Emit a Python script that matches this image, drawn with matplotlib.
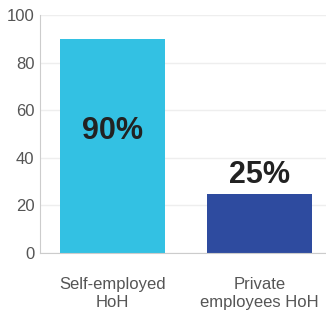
import matplotlib.pyplot as plt

categories = ['Self-employed\nHoH', 'Private\nemployees HoH']
values = [90, 25]
colors = ['#33c1e3', '#2e4b9f']
yticks = [0, 20, 40, 60, 80, 100]

plt.rcParams['font.family'] = ['Liberation Sans', 'DejaVu Sans']

fig = plt.figure(figsize=(3.26, 3.15), dpi=100)
ax = fig.add_axes([40 / 326, 62 / 315, 286 / 326, 238 / 315])

x = range(len(categories))
ax.bar(x, values, width=0.71, color=colors, zorder=2)

ax.set_xlim(-0.49, 1.45)
ax.set_ylim(0, 100)
ax.set_yticks(yticks)
ax.set_xticks(list(x))
ax.set_xticklabels(categories, linespacing=1.3)
ax.tick_params(axis='y', length=0, pad=4, labelsize=12, labelcolor='#555555')
ax.tick_params(axis='x', length=0, pad=17, labelsize=12, labelcolor='#555555')

ax.grid(axis='y', color='#eeeeee', linewidth=1, zorder=0)
for side in ['top', 'right']:
    ax.spines[side].set_visible(False)
ax.spines['left'].set_color('#cccccc')
ax.spines['bottom'].set_color('#cccccc')

# first label inside the bar, second above it
ax.text(0, 48, f'{values[0]}%', ha='center', va='baseline',
        fontsize=22, fontweight='bold', color='#222222', zorder=3)
ax.annotate(f'{values[1]}%', (1, values[1]), xytext=(0, 7.5), textcoords='offset points',
            ha='center', va='baseline', fontsize=22, fontweight='bold', color='#222222')

fig.savefig('out.png', dpi=100)
